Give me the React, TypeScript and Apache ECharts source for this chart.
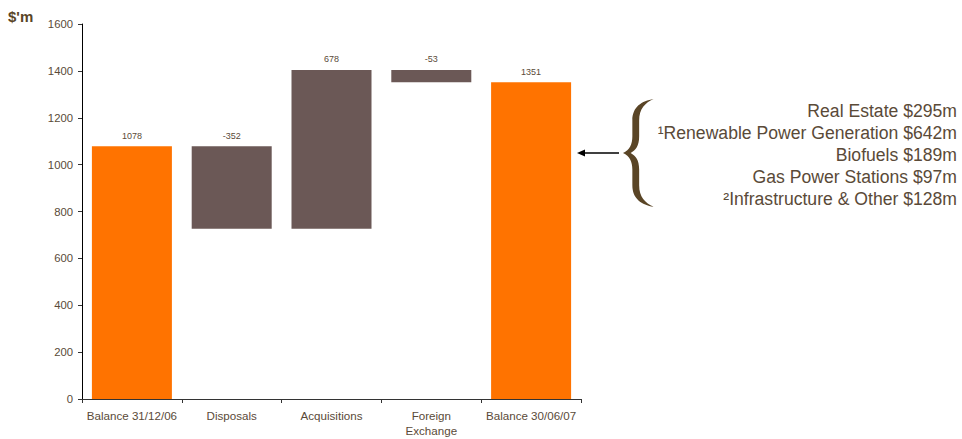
import React, { useEffect, useRef } from "react";
import * as echarts from "echarts";

const categories = ["Balance 31/12/06", "Disposals", "Acquisitions", "Foreign\nExchange", "Balance 30/06/07"];
const changes = [1078, -352, 678, -53, 1351];
const isTotal = [true, false, false, false, true];
const yTicks = { min: 0, max: 1600, interval: 200 };
const breakdownLabels = [
  "Real Estate $295m",
  "\u00b9Renewable Power Generation $642m",
  "Biofuels $189m",
  "Gas Power Stations $97m",
  "\u00b2Infrastructure & Other $128m",
];

const ORANGE = "#FF7300";
const BROWN = "#6B5856";
const TEXT = "#5A4A38";

const braceD =
  "M36,0 C22,2 11,8 11,22 L11,38 C11,46 8,52 0,55 C8,58 11,64 11,72 L11,88 C11,102 22,108 36,110 C26,106 19,100 19,88 L19,72 C19,62 15,58 9,55 C15,52 19,48 19,38 L19,22 C19,10 26,4 36,0 Z";
let registered = false;

export default function App() {
  const ref = useRef<HTMLDivElement>(null);
  useEffect(() => {
    if (!registered) {
      echarts.graphic.registerShape("brace", echarts.graphic.extendPath(braceD, {}) as any);
      registered = true;
    }
    const chart = echarts.init(ref.current!, null, { renderer: "svg" });
    const base: number[] = [];
    const vis: number[] = [];
    let running = 0;
    changes.forEach((c, i) => {
      if (isTotal[i]) {
        base.push(0);
        vis.push(c);
        running = c;
      } else {
        const next = running + c;
        base.push(Math.min(running, next));
        vis.push(Math.abs(c));
        running = next;
      }
    });
    chart.setOption({
      animation: false,
      grid: { left: 82, right: 381, top: 24, bottom: 40 },
      xAxis: {
        type: "category",
        data: categories,
        axisLine: { lineStyle: { color: "#333", width: 1 } },
        axisTick: { show: true, alignWithLabel: false, length: 4, lineStyle: { color: "#333" } },
        axisLabel: { color: TEXT, fontSize: 11.6, fontFamily: "Liberation Sans, Arial, sans-serif", margin: 9, interval: 0, lineHeight: 15 },
      },
      yAxis: {
        type: "value",
        min: yTicks.min,
        max: yTicks.max,
        interval: yTicks.interval,
        splitLine: { show: false },
        axisLine: { show: true, lineStyle: { color: "#000" } },
        axisTick: { show: true, length: 4, lineStyle: { color: "#333" } },
        axisLabel: {
          color: TEXT,
          fontSize: 11.3,
          fontFamily: "Liberation Sans, Arial, sans-serif",
          margin: 9,
          formatter: (v: number) => String(v),
        },
      },
      series: [
        {
          type: "bar",
          stack: "w",
          data: base,
          itemStyle: { color: "transparent" },
          silent: true,
          barWidth: 80,
        },
        {
          type: "bar",
          stack: "w",
          barWidth: 80,
          data: vis.map((v, i) => ({
            value: v,
            itemStyle: { color: isTotal[i] ? ORANGE : BROWN },
          })),
          label: {
            show: true,
            position: "top",
            distance: 6,
            color: TEXT,
            fontSize: 9,
            fontFamily: "Liberation Sans, Arial, sans-serif",
            formatter: (p: any) => String(changes[p.dataIndex]),
          },
        },
      ],
      graphic: [
        {
          type: "text",
          left: 8,
          top: 9,
          style: { text: "$'m", fill: "#5A4526", font: "bold 15px Liberation Sans, Arial, sans-serif" },
        },
        ...breakdownLabels.map((t, i) => ({
          type: "text",
          x: 957,
          y: 111 + i * 22,
          style: {
            text: t,
            fill: TEXT,
            font: "17.6px Liberation Sans, Arial, sans-serif",
            textAlign: "right",
            textVerticalAlign: "middle",
          },
        })),
        {
          type: "brace",
          x: 623,
          y: 99,
          scaleX: 0.85,
          scaleY: 0.98,
          style: { fill: "#5A4526" },
        },
        {
          type: "line",
          shape: { x1: 582, y1: 153, x2: 619, y2: 153 },
          style: { stroke: "#000", lineWidth: 1.5 },
        },
        {
          type: "polygon",
          shape: { points: [[577, 153], [585, 149.5], [585, 156.5]] },
          style: { fill: "#000" },
        },
      ],
    });
    return () => chart.dispose();
  }, []);
  return <div ref={ref} style={{ position: "absolute", left: 0, top: 0, width: 962, height: 439 }} />;
}
